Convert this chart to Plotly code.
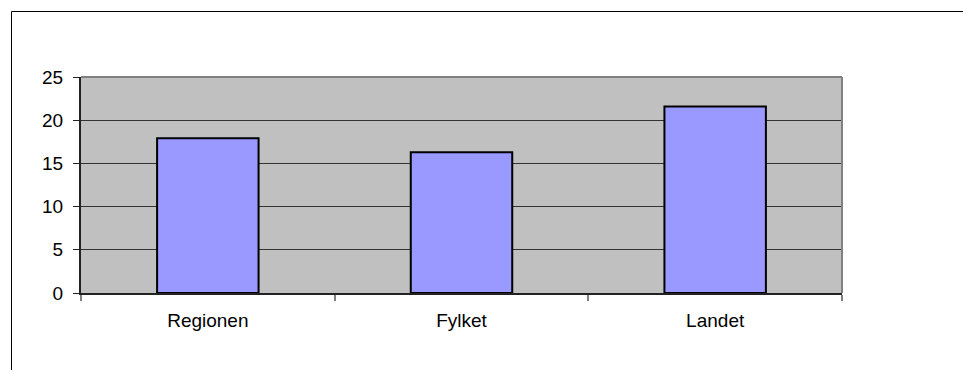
import plotly.graph_objects as go

categories = ["Regionen", "Fylket", "Landet"]
values = [17.9, 16.3, 21.6]
y_ticks = [0, 5, 10, 15, 20, 25]

W, H = 963, 370
L, R, T, B = 81, 842, 77, 293

def px_x(p):
    return (p - L) / (R - L)

def px_y(p):
    return (B - p) / (B - T)

fig = go.Figure()
fig.add_trace(go.Bar(
    x=categories, y=values, width=0.4,
    marker=dict(color="#9999FF", line=dict(color="#000000", width=2)),
))

font = dict(family="Arial, Liberation Sans, sans-serif", size=19, color="#000000")

fig.update_layout(
    width=W, height=H,
    margin=dict(l=L, r=W - R, t=T, b=H - B, pad=0),
    paper_bgcolor="#FFFFFF",
    plot_bgcolor="#C0C0C0",
    showlegend=False,
    font=font,
    xaxis=dict(
        type="category", range=[-0.5, 2.5],
        showgrid=False, ticks="outside", tickson="boundaries",
        ticklen=6, tickcolor="#808080", tickwidth=2,
        showline=True, linecolor="#222222", linewidth=2,
        ticklabelstandoff=9, tickfont=font,
    ),
    yaxis=dict(
        range=[0, 25], tickvals=y_ticks, ticktext=[str(v) for v in y_ticks],
        showgrid=True, gridcolor="#333333", gridwidth=1,
        ticks="outside", ticklen=6, tickcolor="#222222", tickwidth=1,
        showline=True, linecolor="#222222", linewidth=2,
        zeroline=False, ticklabelstandoff=6, tickfont=font,
    ),
    shapes=[
        dict(type="line", xref="paper", yref="paper", x0=0, x1=1, y0=1, y1=1,
             line=dict(color="#808080", width=2), layer="above"),
        dict(type="line", xref="paper", yref="paper", x0=1, x1=1, y0=0, y1=1,
             line=dict(color="#808080", width=2), layer="above"),
        dict(type="line", xref="paper", yref="paper",
             x0=px_x(11.5), x1=px_x(11.5), y0=px_y(372), y1=px_y(11.5),
             line=dict(color="#000000", width=1)),
        dict(type="line", xref="paper", yref="paper",
             x0=px_x(11.5), x1=px_x(965), y0=px_y(11.5), y1=px_y(11.5),
             line=dict(color="#000000", width=1)),
    ],
)

fig.write_html("out.html")
